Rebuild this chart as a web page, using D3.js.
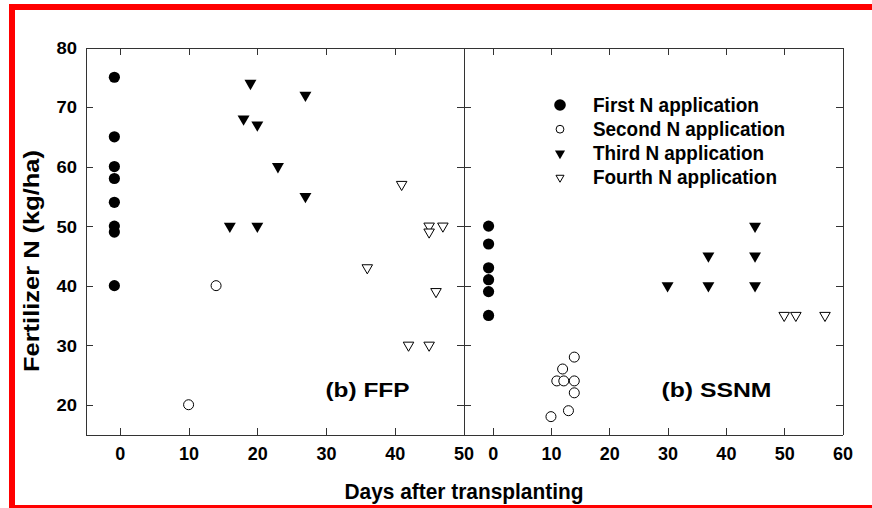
<!DOCTYPE html>
<html>
<head>
<meta charset="utf-8">
<script src="https://cdn.jsdelivr.net/npm/d3@7"></script>
<style>
  html, body { margin: 0; padding: 0; background: #fff; }
  svg { display: block; }
  text { font-family: "Liberation Sans", Arial, Helvetica, sans-serif; font-weight: bold; fill: #000; }
</style>
</head>
<body>
<svg id="chart" width="872" height="508"></svg>
<script>
// ---------------- data ----------------
const seriesNames = ["First N application", "Second N application", "Third N application", "Fourth N application"];
const panelLabels = ["(b) FFP", "(b) SSNM"];
const xLabel = "Days after transplanting";
const yLabel = "Fertilizer N (kg/ha)";
const yTicks = [20, 30, 40, 50, 60, 70, 80];
const xTicksFFP = [0, 10, 20, 30, 40, 50];
const xTicksSSNM = [0, 10, 20, 30, 40, 50, 60];

// [days after transplanting, fertilizer N kg/ha]
const ffpFirst  = [[-0.8, 75], [-0.8, 65], [-0.8, 60], [-0.8, 58], [-0.8, 54], [-0.8, 50], [-0.8, 49], [-0.8, 40]];
const ffpSecond = [[10, 20], [14, 40]];
const ffpThird  = [[19, 74], [27, 72], [18, 68], [20, 67], [23, 60], [27, 55], [16, 50], [20, 50]];
const ffpFourth = [[41, 57], [45, 50], [45, 49], [47, 50], [36, 43], [46, 39], [42, 30], [45, 30]];

const ssnmFirst  = [[-0.7, 50], [-0.7, 47], [-0.7, 43], [-0.7, 41], [-0.7, 39], [-0.7, 35]];
const ssnmSecond = [[14, 28], [12, 26], [11, 24], [12.2, 24], [14, 24], [14, 22], [13, 19], [10, 18]];
const ssnmThird  = [[45, 50], [37, 45], [45, 45], [30, 40], [37, 40], [45, 40]];
const ssnmFourth = [[50, 35], [52, 35], [57, 35]];

// ---------------- layout ----------------
const svg = d3.select("#chart");
const pTop = 47.5, pBottom = 434.5, pLeft = 85.5, pMid = 463.5, pRight = 842.5;

const y = d3.scaleLinear().domain([15, 80]).range([pBottom, pTop]);
const xL = d3.scaleLinear().domain([-5, 50]).range([pLeft, pMid]);
const xR = d3.scaleLinear().domain([-5, 60]).range([pMid, pRight]);

// red frame
svg.append("rect")
  .attr("x", 12).attr("y", 7).attr("width", 920).attr("height", 501)
  .attr("fill", "none").attr("stroke", "#ff0000").attr("stroke-width", 6);

const axisColor = "#333";
function styleAxis(g) {
  g.selectAll("path.domain").attr("stroke", axisColor).attr("stroke-width", 1);
  g.selectAll(".tick line").attr("stroke", axisColor).attr("stroke-width", 1);
  g.attr("shape-rendering", "crispEdges");
}

function panel(xs, xticks) {
  const gb = svg.append("g").attr("transform", `translate(0,${pBottom})`)
    .call(d3.axisBottom(xs).tickValues(xticks).tickSizeInner(-7).tickSizeOuter(0).tickFormat(d3.format("d")));
  styleAxis(gb);
  gb.selectAll("text").attr("y", 25.5).attr("dy", 0).attr("font-size", 18)
    .attr("font-family", '"Liberation Sans", Arial, sans-serif').attr("font-weight", "bold").attr("fill", "#000");
  const gt = svg.append("g").attr("transform", `translate(0,${pTop})`)
    .call(d3.axisTop(xs).tickValues(xticks).tickSizeInner(-7).tickSizeOuter(0).tickFormat(""));
  styleAxis(gt);
  const [x0, x1] = xs.range();
  const gl = svg.append("g").attr("transform", `translate(${x0},0)`)
    .call(d3.axisLeft(y).tickValues(yTicks).tickSizeInner(-7).tickSizeOuter(0).tickFormat(x0 === pLeft ? d3.format("d") : ""));
  styleAxis(gl);
  const gr = svg.append("g").attr("transform", `translate(${x1},0)`)
    .call(d3.axisRight(y).tickValues(yTicks).tickSizeInner(-7).tickSizeOuter(0).tickFormat(""));
  styleAxis(gr);
  return gl;
}

const glFFP = panel(xL, xTicksFFP);
panel(xR, xTicksSSNM);
glFFP.selectAll("text").attr("x", -8.5).attr("dy", "0.36em").attr("font-size", 16.5)
  .attr("textLength", 20.5).attr("lengthAdjust", "spacingAndGlyphs")
  .attr("font-family", '"Liberation Sans", Arial, sans-serif').attr("font-weight", "bold").attr("fill", "#000");

// ---------------- markers ----------------
const triDown = (size) => d3.symbol().type(d3.symbolTriangle).size(size)();

function drawSeries(data, xs, kind) {
  const g = svg.append("g");
  if (kind === 0 || kind === 1) {
    g.selectAll("circle").data(data).join("circle")
      .attr("cx", d => xs(d[0])).attr("cy", d => y(d[1]))
      .attr("r", kind === 0 ? 5.6 : 5.0)
      .attr("fill", kind === 0 ? "#000" : "#fff")
      .attr("stroke", "#000").attr("stroke-width", kind === 0 ? 0 : 1);
  } else {
    g.selectAll("path").data(data).join("path")
      .attr("d", triDown(kind === 2 ? 62 : 48))
      .attr("transform", d => `translate(${xs(d[0])},${y(d[1])}) rotate(180)`)
      .attr("fill", kind === 2 ? "#000" : "#fff")
      .attr("stroke", "#000").attr("stroke-width", kind === 2 ? 0 : 1);
  }
}

[ffpFirst, ffpSecond, ffpThird, ffpFourth].forEach((s, i) => drawSeries(s, xL, i));
[ssnmFirst, ssnmSecond, ssnmThird, ssnmFourth].forEach((s, i) => drawSeries(s, xR, i));

// ---------------- legend ----------------
const legX = 560, legTextX = 593, legBase0 = 111.5, legStep = 24.2;
const leg = svg.append("g");
seriesNames.forEach((name, i) => {
  const by = legBase0 + i * legStep;
  const cy = by - 6.5;
  if (i === 0) leg.append("circle").attr("cx", legX).attr("cy", cy).attr("r", 5.8).attr("fill", "#000");
  if (i === 1) leg.append("circle").attr("cx", legX).attr("cy", cy).attr("r", 3.9).attr("fill", "#fff").attr("stroke", "#000").attr("stroke-width", 1);
  if (i === 2) leg.append("path").attr("d", triDown(44)).attr("transform", `translate(${legX},${cy}) rotate(180)`).attr("fill", "#000");
  if (i === 3) leg.append("path").attr("d", triDown(28)).attr("transform", `translate(${legX},${cy}) rotate(180)`).attr("fill", "#fff").attr("stroke", "#000").attr("stroke-width", 1);
  leg.append("text").attr("x", legTextX).attr("y", by).attr("font-size", 19.5)
    .attr("textLength", i === 1 ? 192 : (i === 0 ? 166 : (i === 2 ? 171 : 184))).attr("lengthAdjust", "spacingAndGlyphs").text(name);
});

// ---------------- labels ----------------
svg.append("text").attr("x", 367.5).attr("y", 397).attr("text-anchor", "middle")
  .attr("font-size", 21).attr("textLength", 84).attr("lengthAdjust", "spacingAndGlyphs").text(panelLabels[0]);
svg.append("text").attr("x", 716.5).attr("y", 397).attr("text-anchor", "middle")
  .attr("font-size", 21).attr("textLength", 110).attr("lengthAdjust", "spacingAndGlyphs").text(panelLabels[1]);

svg.append("text").attr("x", 464).attr("y", 499).attr("text-anchor", "middle")
  .attr("font-size", 22).attr("textLength", 239).attr("lengthAdjust", "spacingAndGlyphs").text(xLabel);

svg.append("text").attr("transform", "translate(39,261) rotate(-90)").attr("text-anchor", "middle")
  .attr("font-size", 22).attr("textLength", 222).attr("lengthAdjust", "spacingAndGlyphs").text(yLabel);
</script>
</body>
</html>
